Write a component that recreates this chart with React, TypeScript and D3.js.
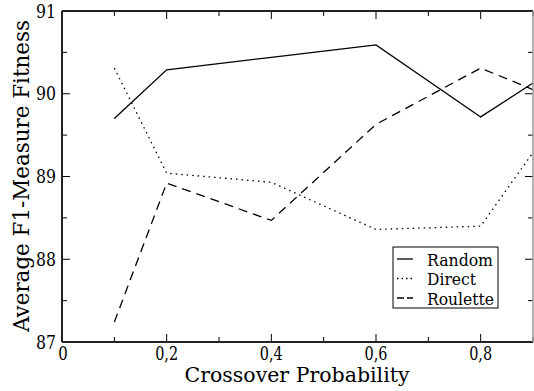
import React from "react";
import * as d3 from "d3";

const xValues = [0.1, 0.2, 0.4, 0.6, 0.8, 0.9];
const randomSeries = [89.7, 90.29, 90.44, 90.59, 89.72, 90.13];
const directSeries = [90.31, 89.04, 88.93, 88.36, 88.4, 89.29];
const rouletteSeries = [87.24, 88.92, 88.47, 89.63, 90.31, 90.05];
const seriesNames = ["Random", "Direct", "Roulette"];
const xTickLabels = ["0", "0,2", "0,4", "0,6", "0,8"];
const yTickLabels = ["87", "88", "89", "90", "91"];

const W = 534, H = 391;
const L = 62, R = 533, T = 11, B = 342;
const FONT = "DejaVu Serif, serif";

export default function App() {
  const x = d3.scaleLinear().domain([0, 0.9]).range([L, R]);
  const y = d3.scaleLinear().domain([87, 91]).range([B, T]);
  const line = d3.line<number>().x((_, i) => x(xValues[i])).y((d) => y(d));
  const series = [randomSeries, directSeries, rouletteSeries];
  const dashes = [undefined, "1.5 4", "9 6"];
  const legendDashes = [undefined, "1.5 3", "7 3"];
  const legendW = [66, 49, 67];
  const xMinor = d3.range(0, 10).map((i) => i / 10);
  const yMinor = d3.range(0, 9).map((i) => 87 + i * 0.5);
  return (
    <svg width={W} height={H} style={{ position: "absolute", left: 0, top: 0 }} fontFamily={FONT}>
      <rect width={W} height={H} fill="#fff" />
      <defs>
        <clipPath id="pc"><rect x={L} y={T} width={R - L} height={B - T} /></clipPath>
      </defs>
      {xMinor.map((v, i) => {
        const len = i % 2 === 0 ? 8 : 5;
        return (
          <g key={"xt" + i} stroke="#000" strokeWidth={1}>
            <line x1={x(v)} x2={x(v)} y1={B} y2={B - len} />
            <line x1={x(v)} x2={x(v)} y1={T} y2={T + len} />
          </g>
        );
      })}
      {yMinor.map((v, i) => {
        const len = i % 2 === 0 ? 8 : 5;
        return (
          <g key={"yt" + i} stroke="#000" strokeWidth={1}>
            <line x1={L} x2={L + len} y1={y(v)} y2={y(v)} />
            <line x1={R} x2={R - len} y1={y(v)} y2={y(v)} />
          </g>
        );
      })}
      <g clipPath="url(#pc)">
        {series.map((s, i) => (
          <path key={i} d={line(s) || ""} fill="none" stroke="#000" strokeWidth={1.3} strokeDasharray={dashes[i]} />
        ))}
      </g>
      <line x1={L} x2={R} y1={T} y2={T} stroke="#222" strokeWidth={2} />
      <line x1={L} x2={R} y1={B} y2={B} stroke="#222" strokeWidth={2} />
      <line x1={L} x2={L} y1={T} y2={B} stroke="#222" strokeWidth={2} />
      <line x1={R} x2={R} y1={T} y2={B} stroke="#999" strokeWidth={1.5} />
      {xTickLabels.map((t, i) => (
        <text key={"xl" + i} x={x(i * 0.2) + (i === 0 ? 1 : 0)} y={360} textAnchor="middle" fontSize={18}
          textLength={t.length === 1 ? 9.5 : 23} lengthAdjust="spacingAndGlyphs">{t}</text>
      ))}
      {yTickLabels.map((t, i) => (
        <text key={"yl" + i} x={56} y={y(87 + i) + 6.5} textAnchor="end" fontSize={18}
          textLength={20} lengthAdjust="spacingAndGlyphs">{t}</text>
      ))}
      <text x={297} y={382} textAnchor="middle" fontSize={21} textLength={225} lengthAdjust="spacingAndGlyphs">Crossover Probability</text>
      <text transform={`translate(29,176) rotate(-90)`} textAnchor="middle" fontSize={22} textLength={312} lengthAdjust="spacingAndGlyphs">Average F1-Measure Fitness</text>
      <rect x={393} y={247} width={105} height={61} fill="#fff" stroke="#000" strokeWidth={1} />
      {seriesNames.map((n, i) => {
        const yy = 259 + i * 19.5;
        return (
          <g key={"lg" + i}>
            <line x1={397} x2={413} y1={yy} y2={yy} stroke="#000" strokeWidth={1.3} strokeDasharray={legendDashes[i]} />
            <text x={427} y={yy + 6.5} fontSize={16} textLength={legendW[i]} lengthAdjust="spacingAndGlyphs">{n}</text>
          </g>
        );
      })}
    </svg>
  );
}
